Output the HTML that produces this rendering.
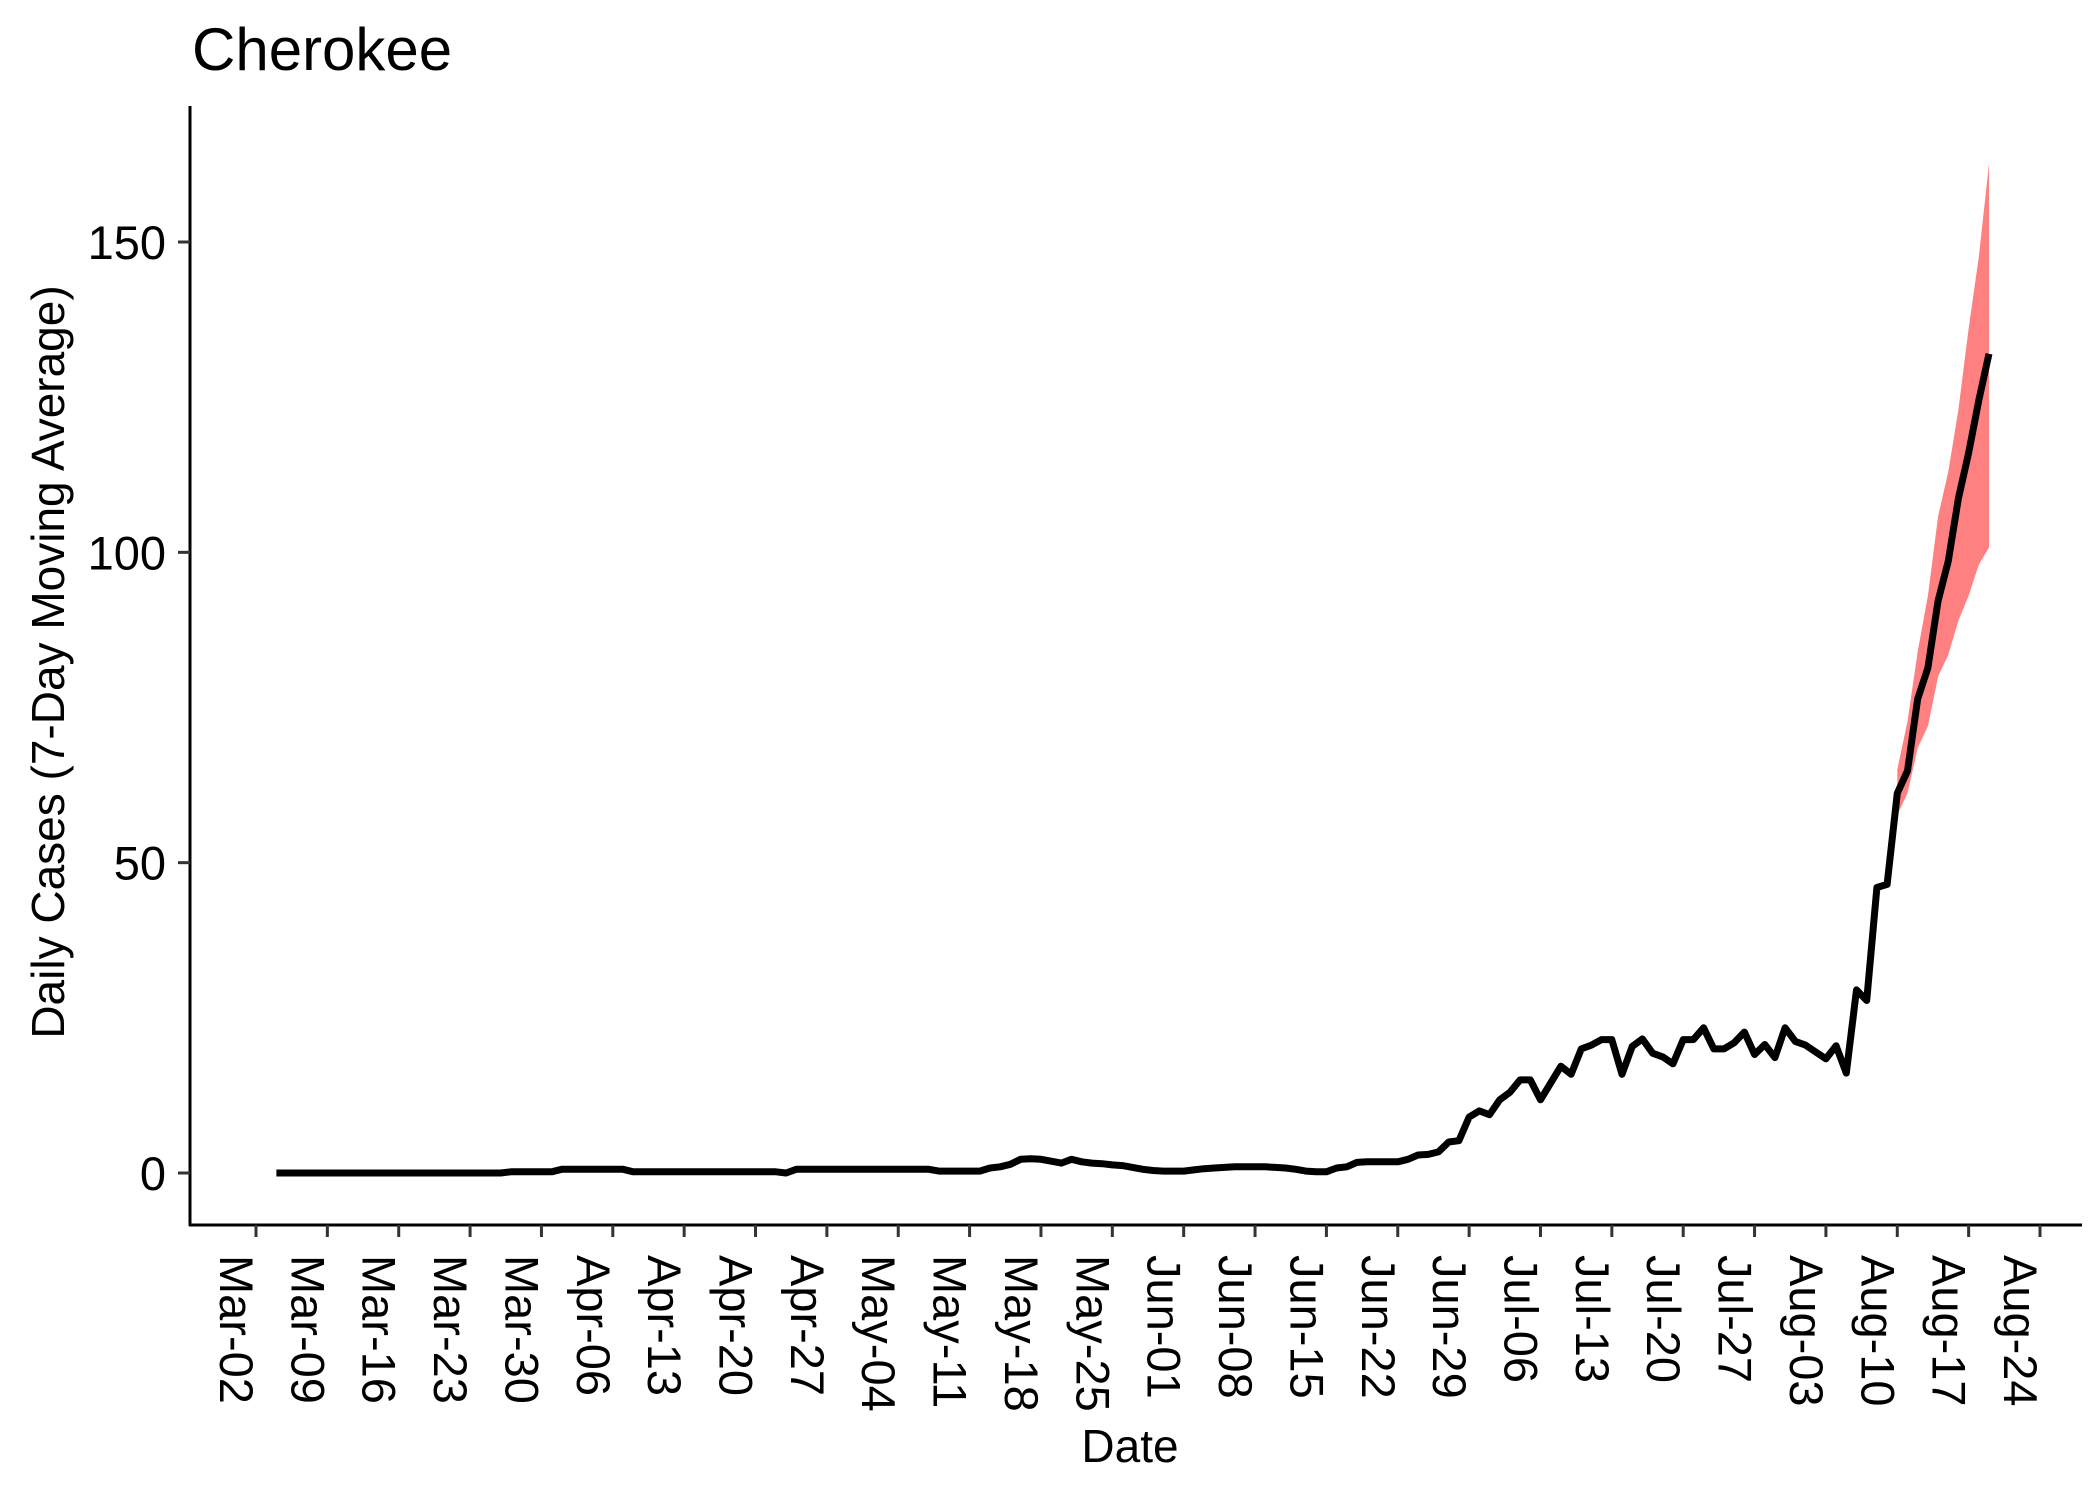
<!DOCTYPE html>
<html><head><meta charset="utf-8"><style>
html,body{margin:0;padding:0;background:#fff;}
svg{display:block;font-family:"Liberation Sans",Arial,sans-serif;}
</style></head><body>
<svg id="chart" width="2100" height="1499" viewBox="0 0 2100 1499" xmlns="http://www.w3.org/2000/svg">
<text x="192" y="70" font-size="60" fill="#000">Cherokee</text>
<g id="ribbon-layer"></g>
<g id="line-layer"></g>
<line x1="190" y1="106" x2="190" y2="1226" stroke="#000" stroke-width="3"/>
<line x1="189" y1="1225" x2="2082" y2="1225" stroke="#000" stroke-width="3"/>
<g id="yticks"></g>
<g id="xticks"></g>
<text x="1130" y="1462" font-size="46" text-anchor="middle" fill="#000">Date</text>
<text transform="translate(48,662) rotate(-90)" font-size="46" text-anchor="middle" dominant-baseline="central" fill="#000">Daily Cases (7-Day Moving Average)</text>
</svg>
<script>
// Data: day index from Mar-02 (day 0)
const tickLabels = ["Mar-02","Mar-09","Mar-16","Mar-23","Mar-30","Apr-06","Apr-13","Apr-20","Apr-27","May-04","May-11","May-18","May-25","Jun-01","Jun-08","Jun-15","Jun-22","Jun-29","Jul-06","Jul-13","Jul-20","Jul-27","Aug-03","Aug-10","Aug-17","Aug-24"];
const yTicks = [0, 50, 100, 150];
const startDay = 2;
const values = [
0,0,0,0,0,0,0,0,0,0,0,0,0,0,0,0,0,0,0,0,0,0,0,
0.2,0.2,0.2,0.2,0.2,
0.6,0.6,0.6,0.6,0.6,0.6,0.6,
0.2,0.2,0.2,0.2,0.2,0.2,0.2,0.2,0.2,0.2,0.2,0.2,0.2,0.2,0.2,
0.0,
0.6,0.6,0.6,0.6,0.6,0.6,0.6,0.6,0.6,0.6,0.6,0.6,0.6,0.6,
0.3,0.3,0.3,0.3,0.3,
0.8,1.0,1.4,2.2,2.3,2.2,1.9,1.6,2.2,1.8,1.6,1.5,1.3,1.2,0.9,0.6,0.4,0.3,0.3,0.3,
0.5,0.7,0.8,0.9,1.0,1.0,1.0,1.0,0.9,0.8,0.6,0.3,0.2,0.2,0.8,1.0,1.7,1.8,1.8,1.8,
1.8,2.2,2.9,3.0,3.4,5.0,5.2,9.0,10.0,9.4,11.8,13.0,15.0,15.0,11.8,14.5,17.2,15.9,20.0,20.6,21.5,21.5,15.9,20.4,21.6,19.3,18.7,17.6,21.5,21.5,23.4,20.0,20.0,21.0,22.7,19.1,20.7,18.6,23.4,21.2,20.6,19.5,18.4,20.5,16.1,29.5,27.8,46.0,46.5,
61.2,64.8,76.4,81.4,92.2,98.6,108.7,116.0,124.5,132.0
];
const ribbonStart = 161;
const ribbonUpper = [65.0,72.8,84.0,93.0,105.8,113.0,123.0,136.0,147.6,162.6];
const ribbonLower = [57.7,61.2,68.5,72.0,80.0,83.5,89.0,93.0,98.0,100.8];

const NS = "http://www.w3.org/2000/svg";
const x0 = 256, dayW = (2040 - 256) / 175;
const yZero = 1173, yPer = (1173 - 242) / 150;
function xs(d){ return x0 + d * dayW; }
function ys(v){ return yZero - v * yPer; }

let rp = [];
ribbonUpper.forEach((v,i)=>rp.push(xs(ribbonStart+i).toFixed(1)+","+ys(v).toFixed(1)));
for(let i=ribbonLower.length-1;i>=0;i--) rp.push(xs(ribbonStart+i).toFixed(1)+","+ys(ribbonLower[i]).toFixed(1));
const rib = document.createElementNS(NS,"polygon");
rib.setAttribute("points", rp.join(" "));
rib.setAttribute("fill", "#FF8080");


document.getElementById("ribbon-layer").appendChild(rib);

const lp = values.map((v,i)=>xs(startDay+i).toFixed(1)+","+ys(v).toFixed(1)).join(" ");
const line = document.createElementNS(NS,"polyline");
line.setAttribute("points", lp);
line.setAttribute("fill","none");
line.setAttribute("stroke","#000");
line.setAttribute("stroke-width","7");
line.setAttribute("stroke-linejoin","round");


document.getElementById("line-layer").appendChild(line);

const yg = document.getElementById("yticks");
yTicks.forEach(t=>{
  const l = document.createElementNS(NS,"line");
  l.setAttribute("x1",178); l.setAttribute("x2",190);
  l.setAttribute("y1",ys(t)); l.setAttribute("y2",ys(t));
  l.setAttribute("stroke","#333"); l.setAttribute("stroke-width","3");
  
  
  yg.appendChild(l);
  const tx = document.createElementNS(NS,"text");
  tx.setAttribute("x",166); tx.setAttribute("y",ys(t)+17);
  tx.setAttribute("text-anchor","end"); tx.setAttribute("font-size","47");
  tx.textContent = t;
  
  
  yg.appendChild(tx);
});

const xg = document.getElementById("xticks");
tickLabels.forEach((lab,i)=>{
  const x = xs(i*7);
  const l = document.createElementNS(NS,"line");
  l.setAttribute("x1",x); l.setAttribute("x2",x);
  l.setAttribute("y1",1225); l.setAttribute("y2",1237);
  l.setAttribute("stroke","#333"); l.setAttribute("stroke-width","3");
  
  
  xg.appendChild(l);
  const tx = document.createElementNS(NS,"text");
  tx.setAttribute("transform","translate("+(x-36).toFixed(1)+",1255) rotate(90)");
  tx.setAttribute("font-size","47");
  tx.textContent = lab;
  
  
  xg.appendChild(tx);
});
</script>
</body></html>
